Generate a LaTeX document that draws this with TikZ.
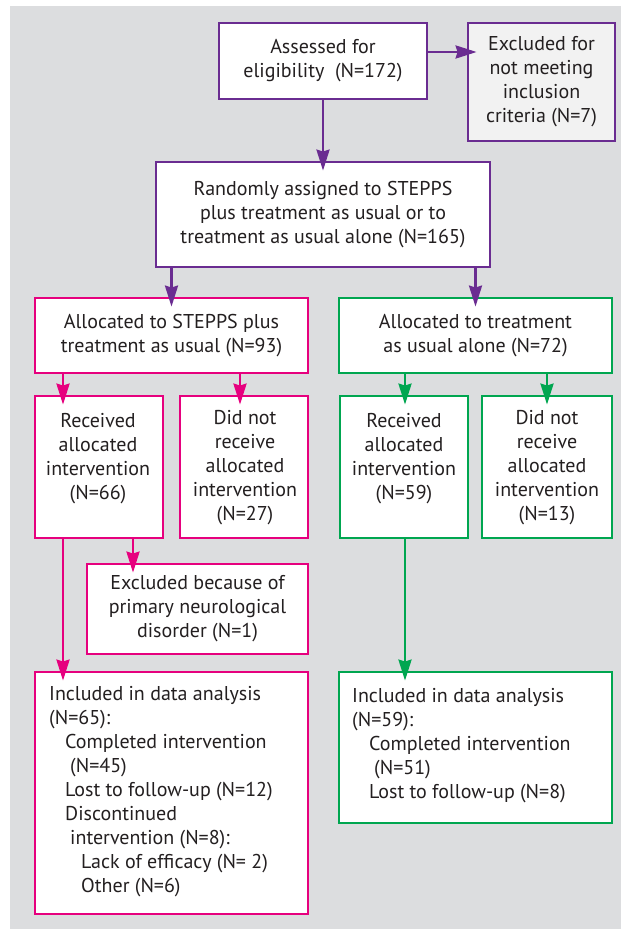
\documentclass[tikz,border=0pt]{standalone}
\usepackage{fontspec}
\setmainfont{PT Sans}
\usetikzlibrary{arrows.meta}
\definecolor{bggray}{RGB}{220,221,223}
\definecolor{exgray}{RGB}{242,242,242}
\definecolor{purp}{RGB}{106,44,145}
\definecolor{mag}{RGB}{230,0,126}
\definecolor{grn}{RGB}{0,166,80}
\definecolor{txt}{RGB}{35,31,32}
\tikzset{
  box/.style={draw, line width=2.8pt, fill=white, inner sep=0pt, text=txt,
    align=center, font=\fontsize{20}{24}\selectfont},
  txtnode/.style={inner sep=0pt, text=txt, font=\fontsize{20}{24}\selectfont},
  arr/.style={line width=2.6pt, -{Stealth[length=21pt,width=13pt,inset=2pt]}, shorten >=-10pt},
  ln/.style={line width=2.6pt},
}
\begin{document}
\begin{tikzpicture}[x=1pt,y=-1pt]
\useasboundingbox (0,0) rectangle (621,929);
\fill[white] (0,0) rectangle (621,929);
\fill[bggray] (10,6) rectangle (621,929);

% top
\node[box, draw=purp, minimum width=208pt, minimum height=76pt] (assess) at (323,61)
  {Assessed for\\eligibility\ \ (N=172)};
\node[box, draw=purp, fill=exgray, minimum width=147pt, minimum height=118pt] (excl) at (541.5,82)
  {Excluded for\\not meeting\\inclusion\\criteria (N=7)};
\node[box, draw=purp, minimum width=334pt, minimum height=105pt] (rand) at (323,214.5)
  {Randomly assigned to STEPPS\\plus treatment as usual or to\\treatment as usual alone (N=165)};

% allocations
\node[box, draw=mag, minimum width=273pt, minimum height=75pt] (allocA) at (171.5,335.5)
  {Allocated to STEPPS plus\\treatment as usual (N=93)};
\node[box, draw=grn, minimum width=273pt, minimum height=75pt] (allocB) at (475.5,335.5)
  {Allocated to treatment\\as usual alone (N=72)};

% second level boxes
\node[box, draw=mag, minimum width=128pt, minimum height=142pt] (recA) at (99,467) {};
\node[box, draw=mag, minimum width=128pt, minimum height=142pt] (notA) at (244,467) {};
\node[box, draw=grn, minimum width=128pt, minimum height=142pt] (recB) at (404,467) {};
\node[box, draw=grn, minimum width=130pt, minimum height=142pt] (notB) at (547,467) {};
\node[txtnode, align=center, anchor=north] (recAt) at (98,413)
  {Received\\allocated\\intervention\\(N=66)};
\node[txtnode, align=center, anchor=north] (notAt) at (245,410)
  {Did not\\receive\\allocated\\intervention\\(N=27)};
\node[txtnode, align=center, anchor=north] (recBt) at (404,413.5)
  {Received\\allocated\\intervention\\(N=59)};
\node[txtnode, align=center, anchor=north] (notBt) at (547,410)
  {Did not\\receive\\allocated\\intervention\\(N=13)};

\node[box, draw=mag, minimum width=221pt, minimum height=90pt] (exclA) at (197.5,609)
  {Excluded because of\\primary neurological\\disorder (N=1)};

% included
\node[box, draw=mag, minimum width=273pt, minimum height=242pt] (incA) at (171.5,793) {};
\node[box, draw=grn, minimum width=273pt, minimum height=151pt] (incB) at (475.5,747.5) {};
\node[txtnode, align=left, anchor=north west] (incAt) at (49,686.5)
  {Included in data analysis\\
   (N=65):\\
   \hspace*{16pt}Completed intervention\\
   \hspace*{21pt}(N=45)\\
   \hspace*{16pt}Lost to follow-up (N=12)\\
   \hspace*{16pt}Discontinued\\
   \hspace*{21pt}intervention (N=8):\\
   \hspace*{32pt}Lack of efficacy (N= 2)\\
   \hspace*{32pt}Other (N=6)};
\node[txtnode, align=left, anchor=north west] (incBt) at (352,688.5)
  {Included in data analysis\\
   (N=59):\\
   \hspace*{17pt}Completed intervention\\
   \hspace*{22pt}(N=51)\\
   \hspace*{17pt}Lost to follow-up (N=8)};

% connectors
\draw[arr, purp] ([yshift=9pt]assess.east) -- ([yshift=9pt]assess.east -| excl.west);
\draw[arr, purp] (assess.south) -- (rand.north);
\draw[arr, purp] (allocA.north |- rand.south) -- (allocA.north);
\draw[arr, purp] (allocB.north |- rand.south) -- (allocB.north);

\draw[arr, mag] (allocA.south -| 63,0) -- (recA.north -| 63,0);
\draw[arr, mag] (allocA.south -| 240,0) -- (notA.north -| 240,0);
\draw[arr, grn] (allocB.south -| 405,0) -- (recB.north -| 405,0);
\draw[arr, grn] (allocB.south -| 547,0) -- (notB.north -| 547,0);

\draw[arr, mag] (recA.south -| 133,0) -- (exclA.north -| 133,0);
\draw[arr, mag] (recA.south -| 63,0) -- (incA.north -| 63,0);
\draw[arr, grn] (recB.south -| 405,0) -- (incB.north -| 405,0);
\end{tikzpicture}
\end{document}
